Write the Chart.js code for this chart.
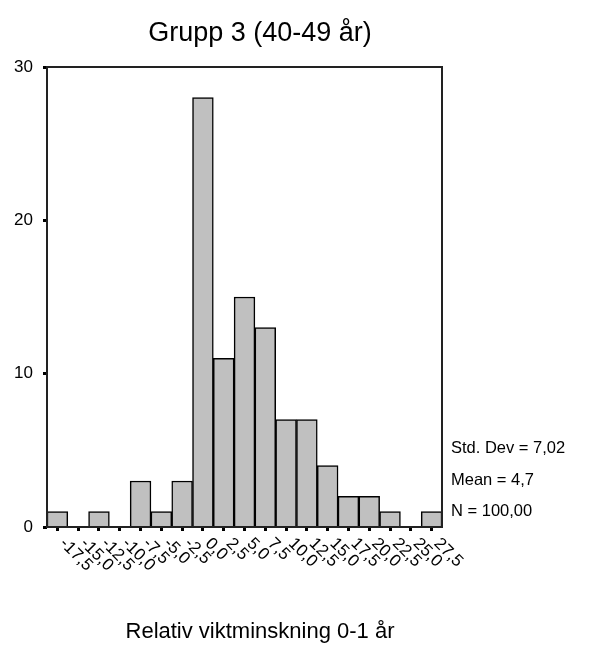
<!DOCTYPE html>
<html>
<head>
<meta charset="utf-8">
<script src="https://cdn.jsdelivr.net/npm/chart.js@4"></script>
<style>
  html, body { margin: 0; padding: 0; background: #fff; }
  #wrap { width: 592px; height: 648px; }
</style>
</head>
<body>
<div id="wrap"><canvas id="histChart" width="592" height="648"></canvas></div>
<script>
// bin midpoints (tick labels, swedish decimal comma)
var binLabels = ['-17,5', '-15,0', '-12,5', '-10,0', '-7,5', '-5,0', '-2,5', '0,0', '2,5', '5,0',
    '7,5', '10,0', '12,5', '15,0', '17,5', '20,0', '22,5', '25,0', '27,5'];
// frequency per bin
var counts = [1, 0, 1, 0, 3, 1, 3, 28, 11, 15, 13, 7, 7, 4, 2, 2, 1, 0, 1];
var yTicks = [0, 10, 20, 30];
var statLines = ['Std. Dev = 7,02', 'Mean = 4,7', 'N = 100,00'];
var chartTitle = 'Grupp 3 (40-49 år)';
var xTitle = 'Relativ viktminskning 0-1 år';

const FONT = '"Liberation Sans", Arial, sans-serif';

const spssDecor = {
    id: 'spssDecor',
    afterDraw(chart) {
        const ctx = chart.ctx;
        const a = chart.chartArea;
        const xs = chart.scales.x;
        ctx.save();
        // frame
        ctx.strokeStyle = '#222';
        ctx.lineWidth = 2;
        ctx.strokeRect(a.left, a.top, a.right - a.left, a.bottom - a.top);

        // rotated x labels
        ctx.fillStyle = '#000';
        ctx.font = '17px ' + FONT;
        ctx.textAlign = 'left';
        ctx.textBaseline = 'middle';
        binLabels.forEach((lab, i) => {
            const x = xs.getPixelForValue(i);
            ctx.save();
            ctx.translate(x + 5, a.bottom + 14);
            ctx.rotate(Math.PI / 4);
            ctx.fillText(lab, 0, 0);
            ctx.restore();
        });

        // titles
        ctx.textAlign = 'center';
        ctx.textBaseline = 'alphabetic';
        ctx.font = '27px ' + FONT;
        ctx.fillText(chartTitle, 260, 41);
        ctx.font = '22px ' + FONT;
        ctx.fillText(xTitle, 260, 638);

        // stats box text
        ctx.textAlign = 'left';
        ctx.font = '16.5px ' + FONT;
        statLines.forEach((s, i) => {
            ctx.fillText(s, a.right + 9, 453 + i * 31.5);
        });
        ctx.restore();
    }
};

const histData = {
    labels: binLabels,
    datasets: [
        {
            data: counts,
            backgroundColor: '#c0c0c0',
            borderColor: '#000',
            borderWidth: 1.5,
            categoryPercentage: 1.0,
            barPercentage: 1.0
        }
    ]
};

const histConfig = {
    type: 'bar',
    data: histData,
    options: {
        responsive: false,
        animation: false,
        layout: {
            padding: { top: 67, right: 150, left: 0, bottom: 0 }
        },
        plugins: {
            legend: { display: false },
            tooltip: { enabled: false }
        },
        scales: {
            x: {
                offset: true,
                afterFit: s => { s.height = 121; },
                border: { display: false },
                grid: {
                    offset: false,
                    drawOnChartArea: false,
                    drawTicks: true,
                    tickLength: 4,
                    tickWidth: 3,
                    color: '#000'
                },
                ticks: { display: true, color: 'rgba(0,0,0,0)', font: { size: 1 } }
            },
            y: {
                min: yTicks[0],
                max: yTicks[yTicks.length - 1],
                afterFit: s => { s.width = 47; },
                afterBuildTicks: s => { s.ticks = yTicks.map(v => ({ value: v })); },
                border: { display: false },
                grid: {
                    drawOnChartArea: false,
                    drawTicks: true,
                    tickLength: 4,
                    tickWidth: 3,
                    color: '#000'
                },
                ticks: {
                    color: '#000',
                    padding: 10,
                    font: { family: FONT, size: 17 }
                }
            }
        }
    },
    plugins: [spssDecor]
};

const histChart = new Chart(document.getElementById('histChart'), histConfig);
</script>
</body>
</html>
